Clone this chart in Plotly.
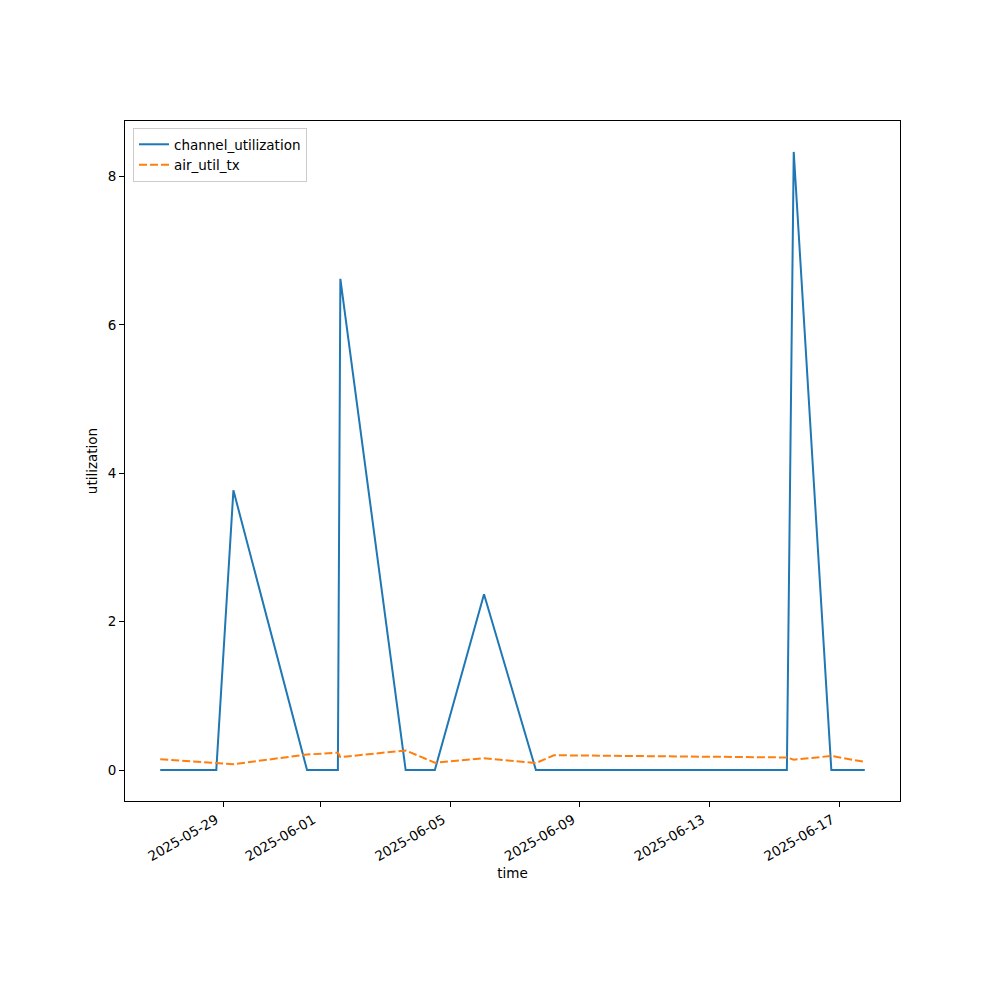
import pandas as pd
import plotly.graph_objects as go

times = [
    "2025-05-27 01:30", "2025-05-28 19:00", "2025-05-29 07:40", "2025-05-31 14:10",
    "2025-06-01 13:00", "2025-06-01 14:50", "2025-06-03 15:10", "2025-06-04 12:45",
    "2025-06-06 01:10", "2025-06-07 15:35", "2025-06-08 04:50", "2025-06-15 09:20",
    "2025-06-15 14:25", "2025-06-16 18:15", "2025-06-17 19:00",
]
channel_utilization = [0.0, 0.0, 3.77, 0.0, 0.0, 6.62, 0.0, 0.0, 2.37, 0.0, 0.0, 0.0, 8.33, 0.0, 0.0]
air_util_tx = [0.145, 0.09, 0.08, 0.21, 0.235, 0.175, 0.265, 0.10, 0.16, 0.095, 0.20, 0.17, 0.14, 0.19, 0.11]

x_tick_vals = ["2025-05-29", "2025-06-01", "2025-06-05", "2025-06-09", "2025-06-13", "2025-06-17"]
x_tick_text = ["2025-05-29", "2025-06-01", "2025-06-05", "2025-06-09", "2025-06-13", "2025-06-17"]
y_tick_vals = [0, 2, 4, 6, 8]

t = pd.to_datetime(times)
tmin, tmax = t.min(), t.max()
pad = (tmax - tmin) * 0.05
ymax = max(max(channel_utilization), max(air_util_tx))
ymin = min(min(channel_utilization), min(air_util_tx))
ypad = (ymax - ymin) * 0.05

font = dict(family="DejaVu Sans", size=13.5, color="black")

fig = go.Figure()
fig.add_trace(go.Scatter(x=t, y=channel_utilization, mode="lines", name="channel_utilization",
                         line=dict(color="#1f77b4", width=2)))
fig.add_trace(go.Scatter(x=t, y=air_util_tx, mode="lines", name="air_util_tx",
                         line=dict(color="#ff7f0e", width=2, dash="8px,3px")))

axis_common = dict(showline=True, linecolor="black", linewidth=1, mirror=True,
                   ticks="outside", ticklen=5, tickwidth=1, tickcolor="black",
                   showgrid=False, zeroline=False, tickfont=font)

fig.update_layout(
    width=1000, height=1000,
    paper_bgcolor="white", plot_bgcolor="white",
    margin=dict(l=117, r=108, t=113, b=207),
    font=font,
    showlegend=True,
    legend=dict(x=0.0103, y=0.9897, xanchor="left", yanchor="top",
                bordercolor="#cccccc", borderwidth=1, bgcolor="rgba(255,255,255,0.8)",
                font=font, tracegroupgap=0, itemwidth=30),
    xaxis=dict(range=[tmin - pad, tmax + pad], tickvals=pd.to_datetime(x_tick_vals),
               ticktext=x_tick_text, tickangle=-30, ticklabelshift=-7,
               title=dict(text="time", font=font, standoff=5), **axis_common),
    yaxis=dict(range=[ymin - ypad, ymax + ypad], tickvals=y_tick_vals,
               ticktext=[str(v) for v in y_tick_vals],
               title=dict(text="utilization", font=font, standoff=6), **axis_common),
)

fig.write_html("out.html")
